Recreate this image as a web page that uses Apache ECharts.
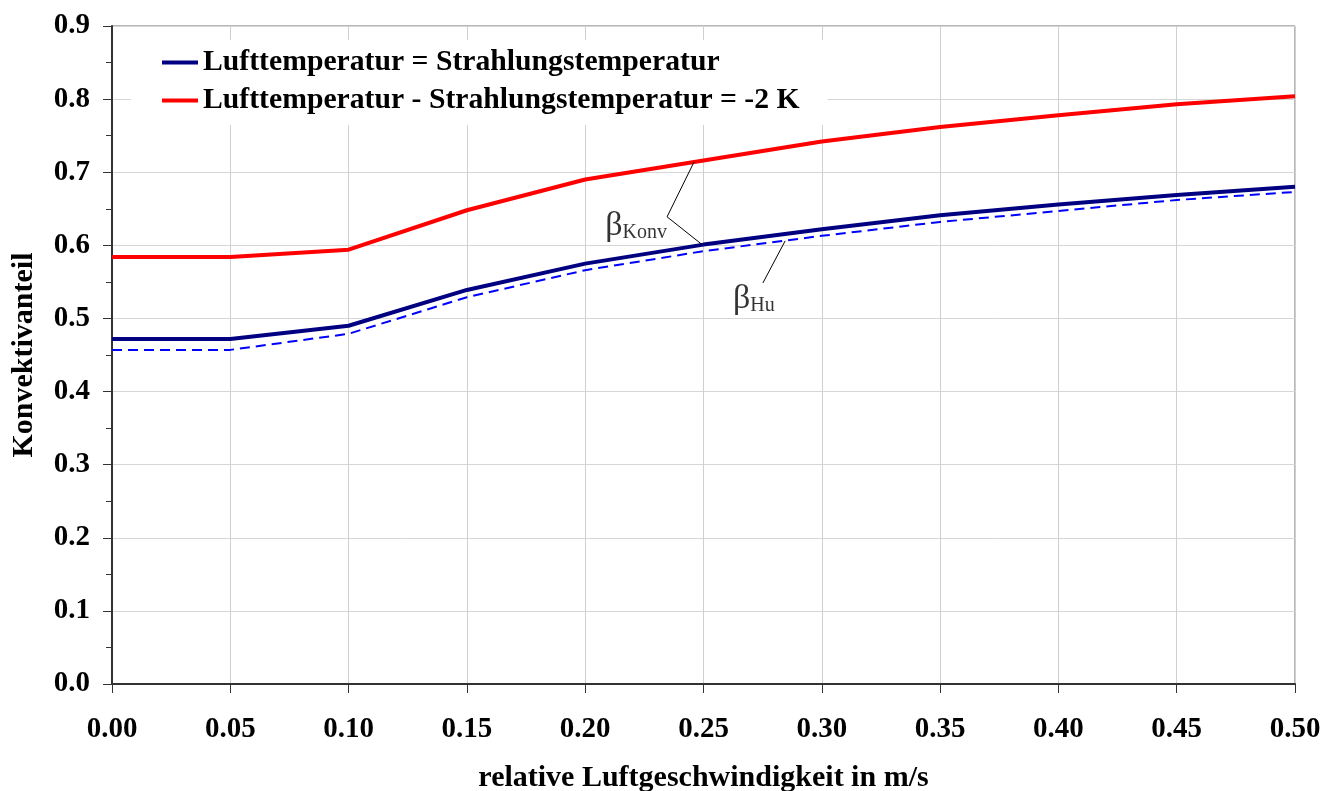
<!DOCTYPE html>
<html>
<head>
<meta charset="utf-8">
<script src="https://cdn.jsdelivr.net/npm/echarts@6/dist/echarts.min.js"></script>
<style>
html,body{margin:0;padding:0;background:#fff;}
#chart{width:1324px;height:791px;}
</style>
</head>
<body>
<div id="chart"></div>
<script>
// ---- data ----
const speeds = [0.00, 0.05, 0.10, 0.15, 0.20, 0.25, 0.30, 0.35, 0.40, 0.45, 0.50];
const xTickLabels = ['0.00','0.05','0.10','0.15','0.20','0.25','0.30','0.35','0.40','0.45','0.50'];
const yTickLabels = ['0.0','0.1','0.2','0.3','0.4','0.5','0.6','0.7','0.8','0.9'];
const seriesNames = ['Lufttemperatur = Strahlungstemperatur', 'Lufttemperatur - Strahlungstemperatur = -2 K'];
const betaKonvEqual = [0.472, 0.472, 0.490, 0.539, 0.575, 0.601, 0.622, 0.641, 0.656, 0.669, 0.680];
const betaKonvMinus2 = [0.584, 0.584, 0.594, 0.648, 0.690, 0.716, 0.742, 0.762, 0.778, 0.793, 0.804];
const betaHuEqual = [0.457, 0.457, 0.479, 0.529, 0.566, 0.592, 0.613, 0.632, 0.647, 0.662, 0.673];
// annotation leader lines (data coordinates)
const konvLeader = [[0.246, 0.714], [0.2346, 0.639], [0.2494, 0.601]];
const huLeader = [[0.2845, 0.606], [0.2751, 0.5485]];
const konvLabelAt = [0.2085, 0.628];
const huLabelAt = [0.2625, 0.528];

const FONT = '"Liberation Serif","Times New Roman",serif';
const pair = (xs, ys) => xs.map((x, i) => [x, ys[i]]);

const chart = echarts.init(document.getElementById('chart'), null, {renderer: 'canvas'});
const option = {
  backgroundColor: '#ffffff',
  animation: false,
  grid: {left: 112, right: 29, top: 26, bottom: 107, containLabel: false, outerBoundsMode: 'none',
    show: true, borderColor: '#6e6e6e', borderWidth: 1, backgroundColor: 'transparent'},
  legend: {
    data: seriesNames,
    orient: 'vertical',
    left: 131, top: 40,
    backgroundColor: '#ffffff',
    padding: [6, 28, 8, 31],
    itemGap: 5,
    itemWidth: 36, itemHeight: 4,
    icon: 'rect',
    textStyle: {fontFamily: FONT, fontWeight: 'bold', fontSize: 29.7, color: '#000', lineHeight: 33}
  },
  xAxis: {
    type: 'value', min: 0, max: 0.5, interval: 0.05,
    name: 'relative Luftgeschwindigkeit in m/s', nameLocation: 'middle', nameGap: 79,
    nameTextStyle: {fontFamily: FONT, fontWeight: 'bold', fontSize: 30, color: '#000'},
    axisLine: {show: true, onZero: false, lineStyle: {color: '#333', width: 2}},
    axisTick: {show: true, length: 9, lineStyle: {color: '#333', width: 1}},
    axisLabel: {margin: 31, fontFamily: FONT, fontWeight: 'bold', fontSize: 29, color: '#000',
      formatter: v => xTickLabels[Math.round(v / 0.05)] || ''},
    splitLine: {show: true, lineStyle: {color: '#cfcfcf', width: 1}}
  },
  yAxis: {
    type: 'value', min: 0, max: 0.9, interval: 0.1,
    name: 'Konvektivanteil', nameLocation: 'middle', nameGap: 73, nameRotate: 90,
    nameTextStyle: {fontFamily: FONT, fontWeight: 'bold', fontSize: 30, color: '#000'},
    axisLine: {show: true, onZero: false, lineStyle: {color: '#333', width: 2}},
    axisTick: {show: true, length: 9, lineStyle: {color: '#333', width: 1}},
    minorTick: {show: true, splitNumber: 2, length: 6, lineStyle: {color: '#333', width: 1}},
    axisLabel: {margin: 22, fontFamily: FONT, fontWeight: 'bold', fontSize: 29, color: '#000',
      formatter: v => yTickLabels[Math.round(v / 0.1)] || ''},
    splitLine: {show: true, lineStyle: {color: '#d6d6d6', width: 1}}
  },
  series: [
    {name: seriesNames[1], type: 'line', data: pair(speeds, betaKonvMinus2), showSymbol: false, symbol: 'none',
      lineStyle: {color: '#ff0000', width: 4}, itemStyle: {color: '#ff0000'}, z: 3},
    {name: 'betaHu', type: 'line', data: pair(speeds, betaHuEqual), showSymbol: false, symbol: 'none',
      lineStyle: {color: '#0000ff', width: 2, type: [10, 6]}, itemStyle: {color: '#0000ff'}, z: 2},
    {name: seriesNames[0], type: 'line', data: pair(speeds, betaKonvEqual), showSymbol: false, symbol: 'none',
      lineStyle: {color: '#000080', width: 4}, itemStyle: {color: '#000080'}, z: 4},
    {name: 'leaderKonv', type: 'line', data: konvLeader, showSymbol: false, symbol: 'none', silent: true,
      lineStyle: {color: '#000', width: 1}, z: 5},
    {name: 'leaderHu', type: 'line', data: huLeader, showSymbol: false, symbol: 'none', silent: true,
      lineStyle: {color: '#000', width: 1}, z: 5},
    {name: 'labels', type: 'scatter', symbolSize: 0, silent: true, z: 6,
      data: [
        {value: konvLabelAt, label: {show: true, position: 'inside', formatter: '{b|β}{s|Konv}'}},
        {value: huLabelAt, label: {show: true, position: 'inside', formatter: '{b|β}{s|Hu}'}}
      ],
      label: {
        fontFamily: FONT, color: '#000', align: 'left', verticalAlign: 'middle',
        rich: {
          b: {fontFamily: FONT, fontSize: 34, color: '#000', verticalAlign: 'bottom', lineHeight: 36},
          s: {fontFamily: FONT, fontSize: 20, color: '#000', verticalAlign: 'bottom', lineHeight: 22}
        }
      }
    }
  ]
};
chart.setOption(option);
</script>
</body>
</html>
